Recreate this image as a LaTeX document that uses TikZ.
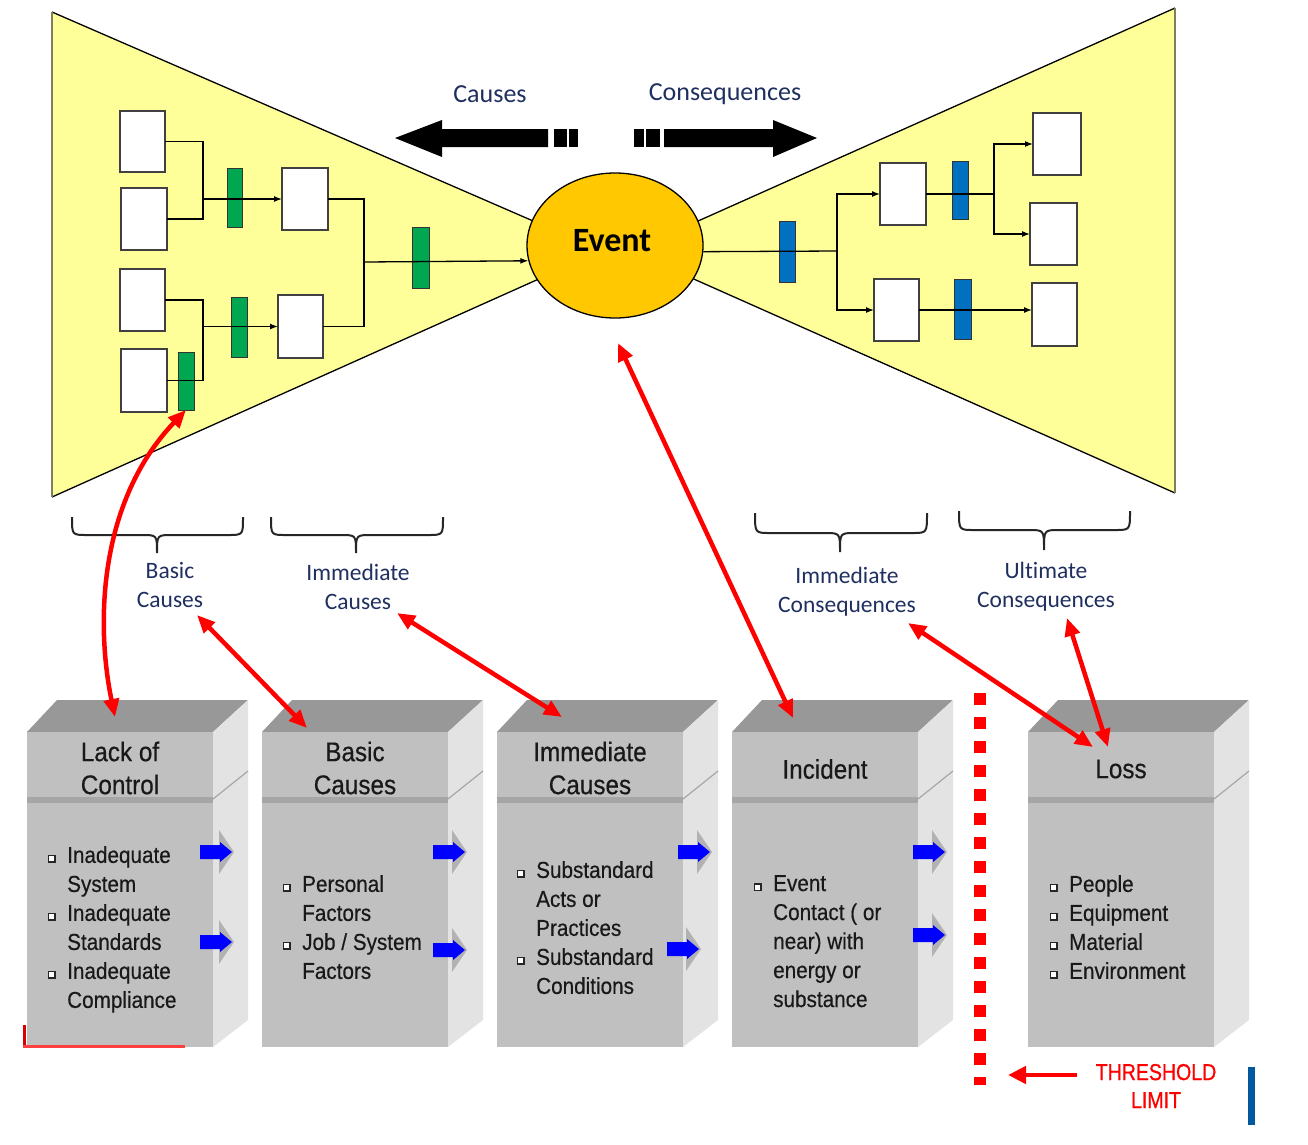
\documentclass[tikz,border=0pt]{standalone}
\usepackage{fontspec}
\setmainfont{Liberation Sans}
\newfontfamily\calfont[Ligatures=CommonOff]{Carlito}
\newfontfamily\narrowfont[FakeStretch=0.9,FakeBold=0.5]{Liberation Sans}
\newfontfamily\thrfont[FakeStretch=0.85,FakeBold=0.7]{Liberation Sans}
\usetikzlibrary{arrows.meta,shapes.geometric}
\definecolor{bowyellow}{HTML}{FFFF99}
\definecolor{evgold}{HTML}{FFC800}
\definecolor{bargreen}{HTML}{00A650}
\definecolor{barblue}{HTML}{0070C0}
\definecolor{labnavy}{HTML}{1F2F5F}
\definecolor{frontf}{HTML}{C0C0C0}
\definecolor{topf}{HTML}{989898}
\definecolor{sidef}{HTML}{E3E3E3}
\definecolor{seamf}{HTML}{A6A6A6}
\definecolor{arrblue}{HTML}{0000FF}
\definecolor{edgeolive}{HTML}{7F7F60}
\definecolor{vbarblue}{HTML}{0058A0}
\newcommand\bul{\raisebox{1.5pt}{\setlength\fboxsep{0pt}\setlength\fboxrule{1.2pt}\fcolorbox{black!85}{white}{\rule{0pt}{5pt}\rule{5pt}{0pt}}}}
\newcommand\itm{\makebox[19pt][l]{\bul}}
\newcommand\cnt{\makebox[19pt]{}}
\newcommand\cubebox[1]{%
 \fill[topf] (#1,732) -- ({#1+30},700) -- ({#1+221},700) -- ({#1+186},732) -- cycle;
 \fill[sidef] ({#1+186},732) -- ({#1+221},700) -- ({#1+221},1020) -- ({#1+186},1047) -- cycle;
 \draw[seamf,line width=1.2pt] ({#1+186},799) -- ({#1+221},771);
 \fill[frontf] (#1,732) rectangle ({#1+186},797);
 \fill[seamf] (#1,797) rectangle ({#1+186},803);
 \fill[frontf] (#1,803) rectangle ({#1+186},1047);
}
\newcommand\bluearr[2]{%
 \fill[gray!60] ({#1+19},{#2-22}) -- ({#1+34},#2) -- ({#1+19},{#2+22}) -- cycle;
 \fill[arrblue] (#1,{#2-7}) -- ({#1+20},{#2-7}) -- ({#1+20},{#2-10}) -- ({#1+32},#2) -- ({#1+20},{#2+10}) -- ({#1+20},{#2+7}) -- (#1,{#2+7}) -- cycle;
}
\newcommand\bracedown[6]{%
 \draw[black!85,line width=2pt] (#1,#4) .. controls (#1,#5) .. ({#1+15},#5) -- ({#3-15},#5) .. controls (#3,#5) .. (#3,#6) .. controls (#3,#5) .. ({#3+15},#5) -- ({#2-15},#5) .. controls (#2,#5) .. (#2,#4);
}
\begin{document}
\begin{tikzpicture}[x=1pt,y=-1pt,
  wbox/.style={draw=black!75, fill=white, line width=1.2pt, inner sep=0pt, outer sep=0pt},
  gbar/.style={draw=black!80, fill=bargreen, line width=0.8pt, inner sep=0pt, outer sep=0pt},
  bbar/.style={draw=black!80, fill=barblue, line width=0.8pt, inner sep=0pt, outer sep=0pt},
  conn/.style={black, line width=1.3pt},
  tip/.style={-{Latex[length=8pt,width=6pt]}},
  redarr/.style={draw=red, line width=4.5pt, {Triangle[length=18pt,width=15pt]}-{Triangle[length=18pt,width=15pt]}},
  toplbl/.style={font=\calfont\fontsize{26}{30}\selectfont, text=labnavy, inner sep=0pt},
  brlbl/.style={font=\calfont\fontsize{23.5}{29}\selectfont, text=labnavy, align=center, inner sep=0pt},
  hdr/.style={font=\narrowfont\fontsize{27}{33}\selectfont, align=center, inner sep=0pt, text=black!90},
  bodytxt/.style={anchor=north west, inner sep=0pt, align=left, font=\narrowfont\fontsize{23}{29}\selectfont, text=black!90}
]
\useasboundingbox (0,0) rectangle (1308,1144);

% bow-tie wings
\fill[bowyellow] (52,12) -- (570,237) -- (570,265) -- (52,497) -- cycle;
\draw[black, line width=1.3pt] (52,12) -- (570,237);
\draw[black, line width=1.3pt] (52,497) -- (570,265);
\draw[edgeolive, line width=2pt] (52,12) -- (52,497);
\fill[bowyellow] (1175,8) -- (660,238) -- (660,264) -- (1175,493) -- cycle;
\draw[black, line width=1.3pt] (1175,8) -- (660,238);
\draw[black, line width=1.3pt] (1175,493) -- (660,264);
\draw[edgeolive, line width=2pt] (1175,8) -- (1175,493);

% event
\node[ellipse, draw=black, line width=1.3pt, fill=evgold, minimum width=176pt, minimum height=145pt, inner sep=0pt] (Event) at (615,245.5) {};
\node[font=\calfont\bfseries\fontsize{34}{40}\selectfont, inner sep=0pt] (evlbl) at (612,241) {Event};

% causes side
\node[wbox, minimum width=45pt, minimum height=61pt] (A1) at (142.5,141.5) {};
\node[wbox, minimum width=46pt, minimum height=62pt] (A2) at (144,219) {};
\node[wbox, minimum width=45pt, minimum height=62pt] (A3) at (142.5,300) {};
\node[wbox, minimum width=46pt, minimum height=63pt] (A4) at (144,380.5) {};
\node[wbox, minimum width=46pt, minimum height=62pt] (B1) at (305,199) {};
\node[wbox, minimum width=45pt, minimum height=63pt] (B2) at (300.5,326.5) {};
\node[gbar, minimum width=15pt, minimum height=59pt] (G1) at (234.5,197.5) {};
\node[gbar, minimum width=16pt, minimum height=60pt] (G2) at (239,327) {};
\node[gbar, minimum width=17pt, minimum height=61pt] (G3) at (420.5,257.5) {};
\node[gbar, minimum width=16pt, minimum height=58pt] (G4) at (186,381) {};
\coordinate (j1) at (203,199);
\coordinate (j2) at (203,326.5);
\coordinate (j3) at (364,262);
\draw[conn] (A1.east) -| (j1) |- (A2.east);
\draw[conn,tip] (j1) -- (B1.west);
\draw[conn] (A3.east) -| (j2) |- (A4.east);
\draw[conn,tip] (j2) -- (B2.west);
\draw[conn] (B1.east) -| (j3) |- (B2.east);
\draw[conn,tip] (j3) -- (Event.190);

% consequences side
\node[bbar, minimum width=16pt, minimum height=61pt] (R1) at (787,251.5) {};
\node[wbox, minimum width=46pt, minimum height=62pt] (C1) at (903,194) {};
\node[wbox, minimum width=45pt, minimum height=62pt] (C2) at (896.5,310) {};
\node[bbar, minimum width=16pt, minimum height=58pt] (R2) at (960,190) {};
\node[bbar, minimum width=17pt, minimum height=60pt] (R3) at (962.5,309) {};
\node[wbox, minimum width=48pt, minimum height=62pt] (D1) at (1057,144) {};
\node[wbox, minimum width=47pt, minimum height=62pt] (D2) at (1053.5,234) {};
\node[wbox, minimum width=45pt, minimum height=63pt] (D3) at (1054.5,314.5) {};
\coordinate (k1) at (837,251);
\coordinate (k2) at (994,194);
\draw[conn] (Event.-4) -- (k1);
\draw[conn,tip] (k1) |- (C1.west);
\draw[conn,tip] (k1) |- (C2.west);
\draw[conn,line width=2.2pt] (C1.east) -- (k2);
\draw[conn,tip] (k2) |- (D1.west);
\draw[conn,tip] (k2) |- (D2.west);
\draw[conn,tip] (C2.east) -- (C2.east -| D3.west);

% top arrows
\fill[black] (395,138) -- (442,120) -- (442,129) -- (548,129) -- (548,147) -- (442,147) -- (442,157) -- cycle;
\fill[black] (554,129) rectangle (567,147);
\fill[black] (569,129) rectangle (578,147);
\fill[black] (634,129) rectangle (644,147);
\fill[black] (646,129) rectangle (660,147);
\fill[black] (664,129) -- (773,129) -- (773,120) -- (817,138) -- (773,157) -- (773,147) -- (664,147) -- cycle;
\node[toplbl] (tC) at (490,94) {Causes};
\node[toplbl] (tQ) at (725,94) {Consequences};

% braces and labels
\bracedown{72}{243}{157}{517}{535}{553}
\bracedown{271}{443}{356}{517}{535}{553}
\bracedown{755}{927}{840}{513}{533}{552}
\bracedown{959}{1130}{1044}{511}{530}{550}
\node[brlbl] (lBC) at (170,584.5) {Basic\\Causes};
\node[brlbl] (lIC) at (358,586.5) {Immediate\\Causes};
\node[brlbl] (lICo) at (847,591.5) {Immediate\\Consequences};
\node[brlbl] (lUC) at (1046,586.5) {Ultimate\\Consequences};

% 3D boxes
\cubebox{27}
\cubebox{262}
\cubebox{497}
\cubebox{732}
\cubebox{1028}
\draw[red!85!black, line width=3pt] (24.5,1025) -- (24.5,1047.5);
\draw[red!75, line width=3pt] (23,1046) -- (185,1046);

\node[hdr] (h1) at (120,768) {Lack of\\Control};
\node[hdr] (h2) at (355,768) {Basic\\Causes};
\node[hdr] (h3) at (590,768) {Immediate\\Causes};
\node[hdr] (h4) at (825,769) {Incident};
\node[hdr] (h5) at (1121,769) {Loss};

\node[bodytxt] (b1) at (48,846) {\itm Inadequate\\\cnt System\\\itm Inadequate\\\cnt Standards\\\itm Inadequate\\\cnt Compliance};
\node[bodytxt] (b2) at (283,875) {\itm Personal\\\cnt Factors\\\itm Job / System\\\cnt Factors};
\node[bodytxt] (b3) at (517,861) {\itm Substandard\\\cnt Acts or\\\cnt Practices\\\itm Substandard\\\cnt Conditions};
\node[bodytxt] (b4) at (754,875) {\itm Event\\\cnt Contact ( or\\\cnt near) with\\\cnt energy or\\\cnt substance};
\node[bodytxt] (b5) at (1050,875) {\itm People\\\itm Equipment\\\itm Material\\\itm Environment};

\bluearr{200}{852}
\bluearr{200}{942}
\bluearr{433}{852}
\bluearr{433}{950}
\bluearr{678}{852}
\bluearr{667}{949}
\bluearr{913}{852}
\bluearr{913}{935}

% red links
\coordinate (rc1) at (115,717);
\coordinate (ra2s) at (197,615);
\coordinate (ra2e) at (307,728);
\coordinate (ra3s) at (397,613);
\coordinate (ra3e) at (562,717);
\coordinate (ra4s) at (618,343);
\coordinate (ra4e) at (793,718);
\coordinate (ra5s) at (908,623);
\coordinate (ra5e) at (1093,747);
\coordinate (ra6s) at (1067,618);
\coordinate (ra6e) at (1108,747);
\draw[redarr] (G4.south) .. controls (100,500) and (95,620) .. (rc1);
\draw[redarr] (ra2s) -- (ra2e);
\draw[redarr] (ra3s) -- (ra3e);
\draw[redarr] (ra4s) -- (ra4e);
\draw[redarr] (ra5s) -- (ra5e);
\draw[redarr] (ra6s) -- (ra6e);

% threshold
\draw[red, line width=12pt, dash pattern=on 12pt off 12pt] (980,693) -- (980,1085);
\node[font=\thrfont\fontsize{23}{28}\selectfont, text=red, align=center, inner sep=0pt] (thr) at (1156,1086) {THRESHOLD\\LIMIT};
\coordinate (thrs) at (1077,1075);
\coordinate (thre) at (1008,1075);
\draw[red, line width=4.5pt, -{Triangle[length=18pt,width=17pt]}] (thrs) -- (thre);
\fill[vbarblue] (1248,1067) rectangle (1255,1125);
\end{tikzpicture}
\end{document}
